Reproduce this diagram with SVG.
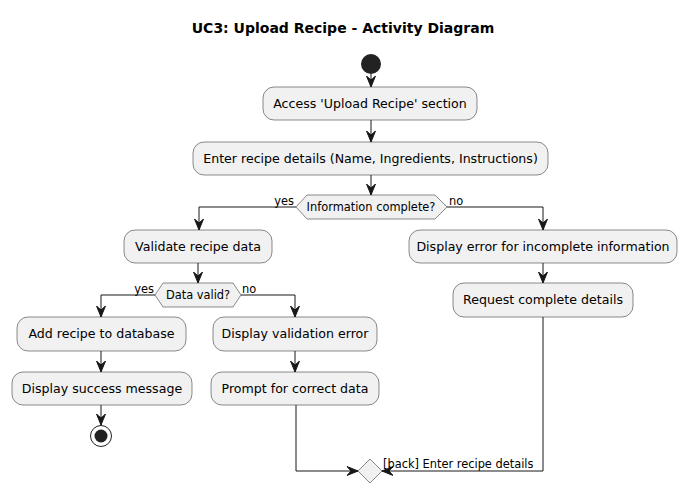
<svg xmlns="http://www.w3.org/2000/svg" width="687" height="494" viewBox="0 0 687 494">
<style>
.box{fill:#F1F1F1;stroke:#181818;stroke-width:0.5}
.t{font-family:"DejaVu Sans",sans-serif;font-size:12.6px;fill:#000;text-anchor:middle}
.s{font-family:"DejaVu Sans",sans-serif;font-size:11.4px;fill:#000}
.c{fill:none;stroke:#181818;stroke-width:1;marker-end:url(#ah)}
</style>
<defs>
<marker id="ah" markerUnits="userSpaceOnUse" markerWidth="12" markerHeight="10" refX="11" refY="5" orient="auto" viewBox="0 0 12 10">
<path d="M0,0.5 L11,5 L0,9.5 L4,5 z" fill="#181818" stroke="#181818" stroke-width="1"/>
</marker>
</defs>
<rect width="687" height="494" fill="#FFFFFF"/>
<text x="343" y="33" font-family="DejaVu Sans,sans-serif" font-size="14" font-weight="bold" text-anchor="middle">UC3: Upload Recipe - Activity Diagram</text>

<g id="start"><circle cx="371" cy="64" r="10" fill="#222222"/></g>
<g id="access"><rect class="box" x="263" y="87" width="214" height="33" rx="11"/><text class="t" x="370" y="108">Access 'Upload Recipe' section</text></g>
<g id="enter"><rect class="box" x="193" y="142" width="355" height="33" rx="11"/><text class="t" x="370.5" y="163">Enter recipe details (Name, Ingredients, Instructions)</text></g>
<g id="infoComplete"><polygon class="box" points="296,207 307,195 435,195 447,207 435,219 307,219"/><text class="s" x="371" y="211" text-anchor="middle">Information complete?</text></g>
<g id="validate"><rect class="box" x="124" y="230" width="148" height="33" rx="11"/><text class="t" x="198" y="251">Validate recipe data</text></g>
<g id="dispErrIncomplete"><rect class="box" x="409" y="230" width="268" height="33" rx="11"/><text class="t" x="543" y="251">Display error for incomplete information</text></g>
<g id="dataValid"><polygon class="box" points="155,295 163,283 233,283 241,295 233,307 163,307"/><text class="s" x="198" y="299" text-anchor="middle">Data valid?</text></g>
<g id="requestDetails"><rect class="box" x="453" y="283" width="180" height="34" rx="11"/><text class="t" x="543" y="304">Request complete details</text></g>
<g id="addRecipe"><rect class="box" x="17" y="317" width="169" height="34" rx="11"/><text class="t" x="101.5" y="338">Add recipe to database</text></g>
<g id="dispValErr"><rect class="box" x="213" y="317" width="164" height="34" rx="11"/><text class="t" x="295" y="338">Display validation error</text></g>
<g id="success"><rect class="box" x="12" y="372" width="180" height="33" rx="11"/><text class="t" x="102" y="393">Display success message</text></g>
<g id="prompt"><rect class="box" x="211" y="372" width="168" height="33" rx="11"/><text class="t" x="295" y="393">Prompt for correct data</text></g>
<g id="end"><circle cx="101" cy="436" r="10.5" fill="none" stroke="#222222" stroke-width="1"/><circle cx="101" cy="436" r="6.5" fill="#222222"/></g>
<g id="merge"><polygon class="box" points="370,459 382,471 370,483 358,471"/></g>

<g id="connectors">
<line class="c" x1="371" y1="74" x2="371" y2="87"/>
<line class="c" x1="371" y1="120" x2="371" y2="142"/>
<line class="c" x1="371" y1="175" x2="371" y2="195"/>
<polyline class="c" points="296,207 199,207 199,230"/>
<polyline class="c" points="447,207 543,207 543,230"/>
<line class="c" x1="198" y1="263" x2="198" y2="283"/>
<line class="c" x1="543" y1="263" x2="543" y2="283"/>
<polyline class="c" points="155,295 101,295 101,317"/>
<polyline class="c" points="241,295 295,295 295,317"/>
<line class="c" x1="101" y1="351" x2="101" y2="372"/>
<line class="c" x1="295" y1="351" x2="295" y2="372"/>
<line class="c" x1="101" y1="405" x2="101" y2="425"/>
<polyline class="c" points="296,405 296,471 358,471"/>
<polyline class="c" points="543,317 543,471 382,471"/>
<text class="s" x="294" y="205" text-anchor="end">yes</text>
<text class="s" x="449" y="205">no</text>
<text class="s" x="154" y="293" text-anchor="end">yes</text>
<text class="s" x="242" y="293">no</text>
<text class="s" x="383" y="468">[back] Enter recipe details</text>
</g>
</svg>
